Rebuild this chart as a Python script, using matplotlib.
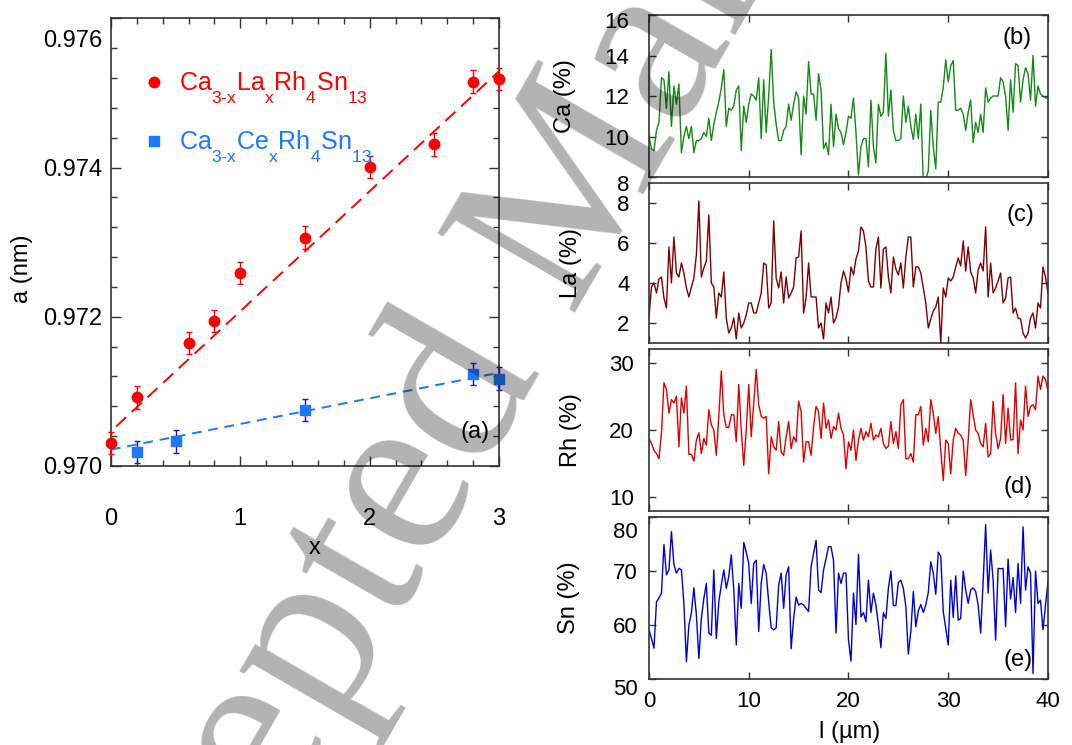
"""Lattice parameter vs x and EDX line scans (Ca, La, Rh, Sn) along l."""

import matplotlib

matplotlib.use("Agg")
import matplotlib.pyplot as plt
import numpy as np
from matplotlib.lines import Line2D
from matplotlib.ticker import MultipleLocator
from matplotlib.transforms import ScaledTranslation

plt.rcParams["font.family"] = ["Liberation Sans", "DejaVu Sans"]
plt.rcParams["mathtext.default"] = "regular"

# deeper subscripts, like the original figure
try:
    import matplotlib._mathtext as _mt
    _mt.FontConstantsBase.sub1 = 0.95
except Exception:
    pass

# ---- panel (a): lattice parameter ----
la_x = [0.0, 0.2, 0.6, 0.8, 1.0, 1.5, 2.0, 2.5, 2.8, 3.0]
la_a = [0.97031, 0.97092, 0.97165, 0.97194, 0.97259, 0.97306, 0.97401, 0.97431, 0.97515, 0.97519]
la_err = [0.00015] * len(la_x)
ce_x = [0.2, 0.5, 1.5, 2.8, 3.0]
ce_a = [0.97019, 0.97033, 0.97075, 0.97123, 0.97117]
ce_err = [0.00015] * len(ce_x)
# dashed guide lines (end points)
la_fit_x = [0.04, 3.0]
la_fit_a = [0.97053, 0.97529]
ce_fit_x = [0.0, 3.0]
ce_fit_a = [0.97022, 0.97125]

# ---- panels (b)-(e): line scans, 0.25 um step ----
ca = [10.0, 9.4, 9.3, 10.3, 10.7, 12.9, 12.8, 11.4, 13.2, 10.5,
      12.5, 11.6, 12.6, 9.2, 10.0, 10.5, 9.9, 10.5, 9.2, 9.8,
      9.8, 9.9, 10.2, 10.0, 10.9, 9.8, 10.6, 11.2, 11.7, 12.4,
      13.3, 10.5, 11.4, 11.3, 11.5, 12.3, 12.5, 9.3, 11.5, 10.7,
      11.6, 12.1, 12.0, 11.8, 12.9, 9.9, 12.8, 10.2, 12.0, 14.3,
      11.7, 10.6, 9.8, 9.8, 10.3, 10.5, 11.6, 10.8, 11.6, 12.2,
      11.9, 9.1, 12.0, 11.1, 13.7, 12.1, 12.1, 10.8, 13.1, 12.3,
      9.4, 9.7, 9.1, 11.6, 9.5, 11.1, 10.4, 10.2, 9.6, 10.2,
      11.0, 10.9, 11.9, 10.2, 8.1, 9.5, 9.9, 9.9, 8.5, 11.8,
      9.5, 8.7, 11.6, 11.0, 11.2, 14.1, 11.0, 12.3, 10.3, 9.8,
      9.8, 9.9, 12.0, 10.7, 11.5, 10.5, 9.85, 11.1, 9.9, 11.6,
      7.7, 7.9, 8.3, 11.3, 9.5, 8.4, 11.7, 11.7, 12.4, 13.8,
      12.7, 13.5, 13.75, 11.3, 11.3, 11.4, 11.1, 10.3, 11.2, 11.8,
      9.7, 10.7, 10.2, 11.1, 10.2, 12.4, 11.7, 11.9, 12.0, 12.0,
      12.0, 12.9, 12.7, 12.0, 10.3, 12.8, 11.2, 13.6, 13.5, 11.7,
      12.8, 13.4, 13.1, 11.8, 14.0, 11.5, 12.5, 12.1, 12.0, 11.9,
      11.9]
la = [2.3, 3.8, 4.0, 3.5, 4.2, 4.3, 3.25, 2.75, 5.8, 4.0,
      6.3, 4.5, 4.3, 5.0, 4.5, 3.75, 3.3, 3.8, 4.25, 5.4,
      8.1, 4.3, 4.75, 5.1, 7.4, 4.0, 3.8, 2.25, 3.5, 3.3,
      4.55, 2.25, 1.5, 1.75, 2.25, 1.2, 2.5, 1.75, 2.0, 2.4,
      3.0, 3.0, 2.5, 2.5, 3.0, 3.5, 5.0, 4.9, 2.75, 3.0,
      7.1, 4.25, 3.75, 4.55, 3.0, 4.3, 3.25, 3.5, 3.8, 5.25,
      5.3, 6.6, 2.5, 3.25, 5.0, 3.3, 3.3, 3.3, 1.75, 2.0,
      1.2, 3.0, 2.5, 3.3, 2.0, 2.25, 2.8, 4.0, 4.6, 4.2,
      3.55, 4.8, 4.4, 5.2, 5.6, 6.8, 6.6, 5.8, 4.1, 3.8,
      3.8, 5.7, 6.3, 3.75, 5.7, 5.8, 4.3, 3.5, 5.3, 4.7,
      4.4, 5.0, 3.75, 5.3, 6.3, 6.3, 3.8, 4.8, 4.8, 4.5,
      3.75, 3.0, 1.75, 2.2, 2.6, 2.8, 3.3, 1.0, 3.75, 3.3,
      4.25, 4.1, 4.3, 4.8, 5.25, 4.85, 6.1, 4.6, 5.8, 4.55,
      4.25, 3.5, 4.65, 5.0, 4.6, 6.8, 3.3, 5.0, 3.5, 3.75,
      4.1, 4.5, 3.0, 3.25, 4.25, 4.3, 2.5, 2.75, 2.25, 2.2,
      1.5, 1.25, 1.5, 2.25, 2.5, 1.75, 3.0, 2.75, 4.8, 4.3,
      3.5]
rh = [18.75, 18.0, 17.0, 16.5, 15.75, 19.5, 27.0, 26.0, 22.5, 24.5,
      24.0, 25.0, 17.5, 24.75, 22.5, 26.5, 16.4, 16.4, 15.4, 18.5,
      19.6, 16.5, 18.75, 17.75, 23.0, 20.75, 20.0, 16.25, 22.0, 28.75,
      22.25, 20.4, 20.4, 22.25, 22.25, 18.25, 26.75, 20.0, 14.75, 20.0,
      26.75, 19.0, 24.0, 29.0, 23.75, 22.0, 21.75, 22.0, 13.5, 19.0,
      17.5, 17.0, 21.25, 16.75, 16.25, 19.0, 21.25, 17.25, 19.0, 18.25,
      24.25, 22.75, 15.25, 18.25, 18.25, 16.25, 20.4, 23.5, 22.75, 18.75,
      24.0, 20.25, 21.5, 18.75, 20.5, 20.0, 22.5, 20.25, 19.25, 14.25,
      18.25, 17.0, 20.0, 15.5, 18.5, 20.25, 18.5, 19.75, 19.0, 21.0,
      18.5, 19.25, 19.0, 20.25, 18.0, 17.25, 17.6, 21.25, 18.0, 19.75,
      17.25, 23.75, 24.5, 15.75, 15.75, 16.5, 15.25, 22.25, 22.25, 23.5,
      17.75, 20.25, 18.25, 24.5, 22.5, 19.5, 22.0, 17.0, 12.5, 18.5,
      18.0, 13.5, 18.5, 20.25, 19.5, 19.25, 18.5, 13.25, 18.5, 24.5,
      22.25, 20.0, 19.5, 18.0, 17.5, 21.0, 16.0, 16.5, 24.25, 19.5,
      17.25, 18.75, 25.25, 18.0, 23.25, 18.5, 18.6, 27.0, 16.5, 21.5,
      20.0, 26.5, 22.0, 23.5, 23.75, 23.0, 28.0, 26.0, 28.0, 27.5,
      25.75]
sn = [59.1, 57.5, 55.7, 64.3, 65.0, 65.9, 74.9, 69.3, 70.2, 77.3,
      71.2, 69.6, 70.5, 70.2, 64.0, 53.2, 60.0, 62.2, 66.9, 61.9,
      53.8, 61.2, 64.9, 67.7, 58.5, 58.1, 70.2, 57.5, 64.3, 67.4,
      70.2, 66.8, 69.0, 73.0, 66.5, 56.3, 67.7, 63.1, 75.3, 73.5,
      71.4, 64.0, 71.4, 72.0, 58.8, 67.7, 71.2, 69.6, 64.3, 59.5,
      59.1, 59.5, 67.4, 69.6, 63.1, 69.3, 70.8, 55.6, 61.2, 65.2,
      63.7, 64.0, 63.7, 63.1, 62.5, 70.8, 73.3, 75.7, 66.5, 66.0,
      70.2, 72.3, 74.5, 74.5, 71.9, 58.5, 69.6, 67.7, 69.6, 69.6,
      57.2, 53.3, 65.9, 60.1, 73.1, 61.5, 62.3, 60.6, 68.3, 62.3,
      65.9, 63.7, 60.0, 55.8, 62.3, 61.2, 66.8, 70.0, 63.6, 63.6,
      67.9, 68.3, 66.8, 63.4, 54.6, 58.8, 66.2, 59.7, 62.6, 63.8,
      62.3, 63.7, 66.0, 71.7, 69.6, 65.7, 73.5, 72.7, 62.5, 59.4,
      56.3, 68.3, 61.4, 69.1, 60.9, 61.2, 70.0, 66.5, 64.0, 66.5,
      66.9, 66.2, 63.7, 58.5, 68.0, 78.6, 65.9, 73.9, 68.3, 57.2,
      70.5, 70.4, 70.5, 59.7, 72.2, 64.8, 68.8, 62.3, 71.4, 64.0,
      78.2, 66.5, 70.8, 69.6, 51.0, 70.0, 64.0, 64.6, 59.1, 63.7,
      68.0]

scans = [
    ("Ca (%)", ca, "#138a13", (8, 16), [8, 10, 12, 14, 16], "(b)", 14),
    ("La (%)", la, "#7f0000", (1, 9), [2, 4, 6, 8], "(c)", 14),
    ("Rh (%)", rh, "#e00000", (8, 32), [10, 20, 30], "(d)", 11),
    ("Sn (%)", sn, "#0000dd", (50, 80), [50, 60, 70, 80], "(e)", 8),
]
# (left, bottom, width, height) of the four stacked panels
panel_boxes = [
    [0.6054, 0.7624, 0.3722, 0.2174],
    [0.6054, 0.5396, 0.3722, 0.2148],
    [0.6054, 0.3141, 0.3722, 0.2174],
    [0.6054, 0.0886, 0.3722, 0.2174],
]
label_pos = [(0.922, 0.858), (0.93, 0.80), (0.925, 0.148), (0.925, 0.117)]
ylabel_x = [-0.183, -0.168, -0.168, -0.173]
# downward shift (px) of the first / last y tick label (0 = no shift)
edge_shift = [(6, 5), (0, 0), (0, 0), (8, 13)]

SPINE = "#333333"

fig = plt.figure(figsize=(10.72, 7.45), dpi=100)


def shift_down(label, px):
    label.set_transform(label.get_transform()
                        + ScaledTranslation(0, -px / 100, fig.dpi_scale_trans))


# ---------------- panel (a) ----------------
ax = fig.add_axes([0.1035, 0.3745, 0.362, 0.601])
ax.plot(la_fit_x, la_fit_a, color="#ff0000", lw=1.4, dashes=(7, 4))
ax.plot(ce_fit_x, ce_fit_a, color="#1e78ff", lw=1.4, dashes=(5, 3.5))
ax.errorbar(la_x, la_a, yerr=la_err, fmt="o", color="#ff0000", ms=7.5,
            elinewidth=1, capsize=2.5, capthick=1, clip_on=False, zorder=4)
ax.errorbar(ce_x, ce_a, yerr=ce_err, fmt="s", color="#1e78ff", ecolor="#1414cc",
            ms=7, elinewidth=1, capsize=2.5, capthick=1, clip_on=False, zorder=4)

ax.set_xlim(0, 3)
ax.set_ylim(0.970, 0.976)
ax.set_xticks([0, 1, 2, 3])
ax.set_yticks([0.970, 0.972, 0.974, 0.976])
ax.set_yticklabels(["0.970", "0.972", "0.974", "0.976"])
ax.xaxis.set_minor_locator(MultipleLocator(0.2))
ax.yaxis.set_minor_locator(MultipleLocator(0.0004))
ax.tick_params(which="both", direction="in", top=True, right=True, labelsize=17,
               color=SPINE, width=1)
ax.tick_params(which="major", length=7)
ax.tick_params(which="minor", length=4)
ax.tick_params(axis="x", pad=30)
ax.tick_params(axis="y", pad=6)
for s in ax.spines.values():
    s.set_color(SPINE)
    s.set_linewidth(1.2)
ax.set_xlabel("x", fontsize=17)
ax.xaxis.set_label_coords(0.526, -0.158)
ax.set_ylabel("a (nm)", fontsize=17)
ax.yaxis.set_label_coords(-0.201, 0.44)
shift_down(ax.yaxis.get_major_ticks()[-1].label1, 20)
ax.text(0.938, 0.076, "(a)", transform=ax.transAxes, fontsize=17,
        ha="center", va="center")

handles = [
    Line2D([], [], marker="o", ls="none", color="#ff0000", ms=7.5),
    Line2D([], [], marker="s", ls="none", color="#1e78ff", ms=7),
]
labels = ["Ca$_{3\u2010x}$La$_x$Rh$_4$Sn$_{13}$",
          "Ca$_{3\u2010x}$Ce$_x$Rh$_4$Sn$_{13}$"]
ax.legend(handles, labels, loc="upper left", bbox_to_anchor=(0.027, 0.935),
          frameon=False, fontsize=18, handlelength=0.8, handletextpad=0.6,
          labelspacing=0.9, labelcolor=["#ff0000", "#1e78ff"])

# ---------------- panels (b)-(e) ----------------
for i, (ylab, vals, col, ylim, yt, tag, ypad) in enumerate(scans):
    bx = fig.add_axes(panel_boxes[i])
    l_um = np.linspace(0, 40, len(vals))
    bx.plot(l_um, vals, color=col, lw=1.0)
    bx.set_xlim(0, 40)
    bx.set_ylim(*ylim)
    bx.set_xticks([0, 10, 20, 30, 40])
    bx.set_yticks(yt)
    bx.tick_params(direction="in", top=True, right=True, length=5, width=1,
                   color=SPINE, labelsize=16)
    bx.tick_params(axis="y", pad=ypad)
    bx.tick_params(axis="x", pad=9)
    for s in bx.spines.values():
        s.set_color(SPINE)
        s.set_linewidth(1.2)
    bx.set_ylabel(ylab, fontsize=17)
    bx.yaxis.set_label_coords(ylabel_x[i], 0.5)
    bx.text(label_pos[i][0], label_pos[i][1], tag, transform=bx.transAxes,
            fontsize=17, ha="center", va="center")
    yticks = bx.yaxis.get_major_ticks()
    lo, hi = edge_shift[i]
    if lo:
        shift_down(yticks[0].label1, lo)
    if hi:
        shift_down(yticks[len(yt) - 1].label1, hi)
    if i < 3:
        bx.tick_params(labelbottom=False)
    else:
        bx.set_xlabel("l (\u00b5m)", fontsize=17)
        bx.xaxis.set_label_coords(0.504, -0.26)

# watermark
fig.text(0.516, 0.687, "Accepted Manuscript", rotation=60, rotation_mode="anchor",
         ha="center", va="center", fontsize=174, family="Liberation Serif",
         color="black", alpha=0.3, zorder=10)

fig.savefig("out.png", dpi=100)
